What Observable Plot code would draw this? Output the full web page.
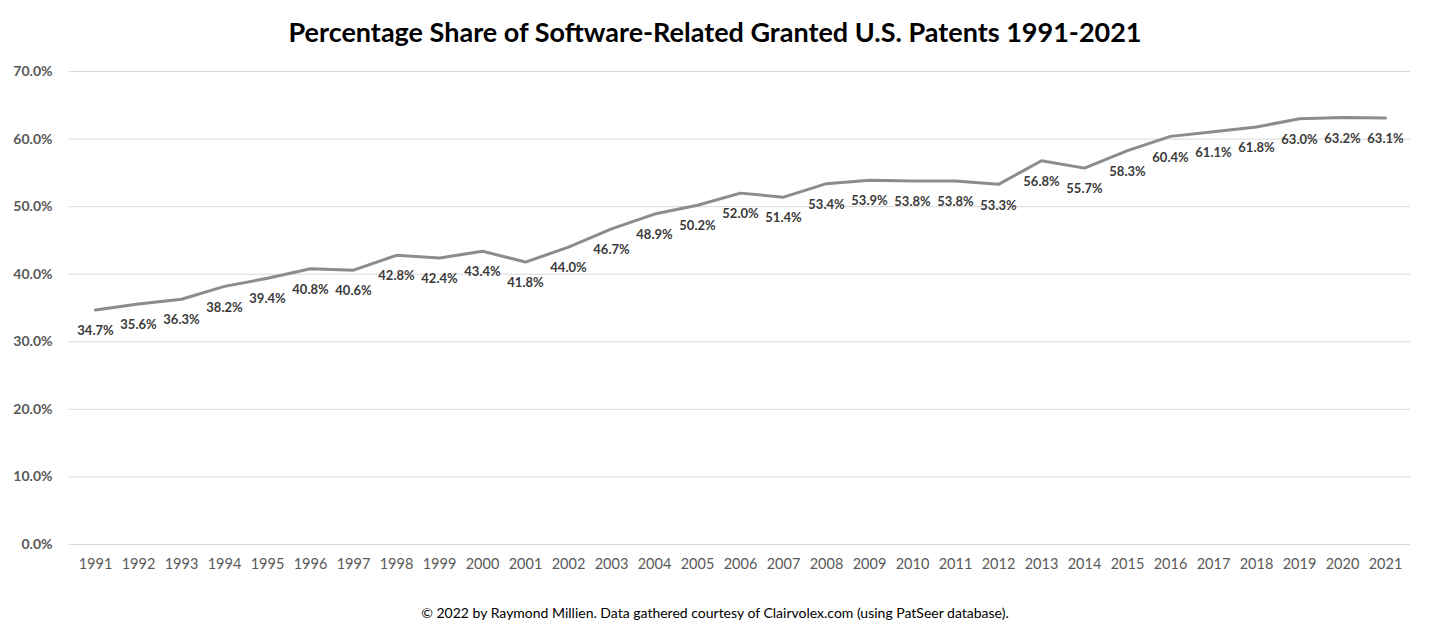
<!DOCTYPE html>
<html>
<head>
<meta charset="utf-8">
<script src="https://cdn.jsdelivr.net/npm/d3@7"></script>
<script src="https://cdn.jsdelivr.net/npm/@observablehq/plot@0.6"></script>
<style>
  html, body { margin: 0; padding: 0; background: #fff; }
  body { width: 1430px; height: 638px; overflow: hidden; font-family: Lato, "Open Sans", sans-serif; }
  #title { height: 50px; line-height: 64px; text-align: center; font-size: 27px; font-weight: bold; color: #000; }
  #caption { height: 48px; line-height: 46px; text-align: center; font-size: 14px; color: #000; }
  #chart svg { display: block; }
</style>
</head>
<body>
<div id="title">Percentage Share of Software-Related Granted U.S. Patents 1991-2021</div>
<div id="chart"></div>
<div id="caption">© 2022 by Raymond Millien. Data gathered courtesy of Clairvolex.com (using PatSeer database).</div>
<script>
const years = ["1991","1992","1993","1994","1995","1996","1997","1998","1999","2000","2001","2002","2003","2004","2005","2006","2007","2008","2009","2010","2011","2012","2013","2014","2015","2016","2017","2018","2019","2020","2021"];
const shares = [34.7,35.6,36.3,38.2,39.4,40.8,40.6,42.8,42.4,43.4,41.8,44.0,46.7,48.9,50.2,52.0,51.4,53.4,53.9,53.8,53.8,53.3,56.8,55.7,58.3,60.4,61.1,61.8,63.0,63.2,63.1];
const yTicks = [0,10,20,30,40,50,60,70];

const data = years.map((year, i) => ({year, share: shares[i]}));

const chart = Plot.plot({
  width: 1430,
  height: 540,
  marginLeft: 69,
  marginRight: 20,
  marginTop: 21,
  marginBottom: 46,
  style: {fontFamily: "Lato, 'Open Sans', sans-serif", background: "#fff"},
  x: {type: "point", domain: years, padding: 0.5, label: null},
  y: {domain: [0, 70], label: null},
  marks: [
    Plot.gridY(yTicks, {stroke: "#d9d9d9", strokeOpacity: 1, strokeWidth: 1}),
    Plot.axisY(yTicks, {tickSize: 0, tickPadding: 17, tickFormat: d => d.toFixed(1) + "%", fontSize: 14, fontWeight: "bold", fill: "#595959", label: null}),
    Plot.axisX({tickSize: 0, tickPadding: 14, fontSize: 14.5, fill: "#595959", label: null}),
    Plot.lineY(data, {x: "year", y: "share", stroke: "#8c8c8c", strokeWidth: 3}),
    Plot.text(data, {x: "year", y: "share", text: d => d.share.toFixed(1) + "%", dy: 21, fontSize: 13, fontWeight: "bold", fill: "#3a3a3a"})
  ]
});
document.getElementById("chart").appendChild(chart);
</script>
</body>
</html>
